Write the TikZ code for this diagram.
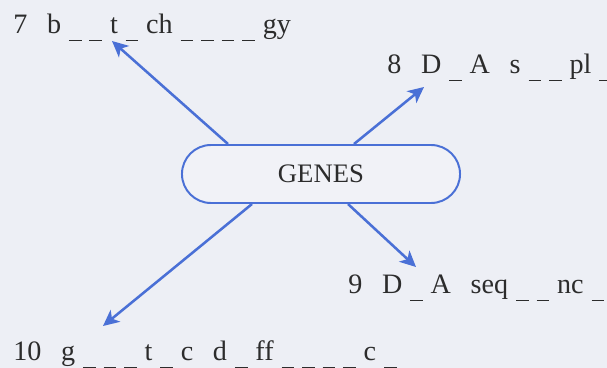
\documentclass[tikz,border=0pt]{standalone}
\usepackage{fontspec}
\setmainfont{Liberation Serif}
\usepackage{xcolor}
\usepackage{tikz}
\usetikzlibrary{arrows.meta,calc}
\definecolor{paper}{HTML}{EDEFF5}
\definecolor{pillfill}{HTML}{F1F2F7}
\definecolor{pen}{HTML}{4A70D6}
\definecolor{ink}{HTML}{2C2C2C}
\newcommand{\letterslot}{\rule[-0.3em]{0.45em}{0.065em}}
\newcommand{\wordsp}{\hspace{0.7em}}

\begin{document}
\begin{tikzpicture}[x=0.025cm,y=-0.025cm,>={Stealth[length=4mm,width=3.8mm,inset=1.1mm]}]
  \tikzstyle{pill}=[draw=pen,fill=pillfill,line width=1.4pt,rounded corners=7.25mm,minimum width=6.95cm,minimum height=1.45cm,text=ink,font=\fontsize{19}{22}\selectfont]
  \tikzstyle{clue}=[anchor=base west,inner sep=0pt,text=ink,font=\fontsize{20}{24}\selectfont,execute at begin node={\spaceskip=0.28em\relax}]
  \tikzstyle{link}=[->,draw=pen,line width=1.8pt]
  \useasboundingbox[fill=paper] (0,0) rectangle (607,368);
  \node[pill] (genes) at (321,174) {GENES};
  \node[clue] (c7) at (13,33) {7\wordsp b \letterslot{} \letterslot{} t \letterslot{} ch \letterslot{} \letterslot{} \letterslot{} \letterslot{} gy};
  \node[clue] (c8) at (387,73) {8\wordsp D \letterslot{} A\wordsp s \letterslot{} \letterslot{} pl \letterslot};
  \node[clue] (c9) at (348,293) {9\wordsp D \letterslot{} A\wordsp seq \letterslot{} \letterslot{} nc \letterslot};
  \node[clue] (c10) at (13,360) {10\wordsp g \letterslot{} \letterslot{} \letterslot{} t \letterslot{} c\wordsp d \letterslot{} ff \letterslot{} \letterslot{} \letterslot{} \letterslot{} c \letterslot};
  % arrow tips sit just under each clue
  \coordinate (t7) at (112,41);
  \coordinate (t8) at (424,87);
  \coordinate (t9) at (416,267);
  \coordinate (t10) at (103,326);
  \draw[link] ($(genes.north)+(-93,0)$) -- (t7);
  \draw[link] ($(genes.north)+(33,0)$) -- (t8);
  \draw[link] ($(genes.south)+(27,0)$) -- (t9);
  \draw[link] ($(genes.south)+(-69,0)$) -- (t10);
\end{tikzpicture}
\end{document}
